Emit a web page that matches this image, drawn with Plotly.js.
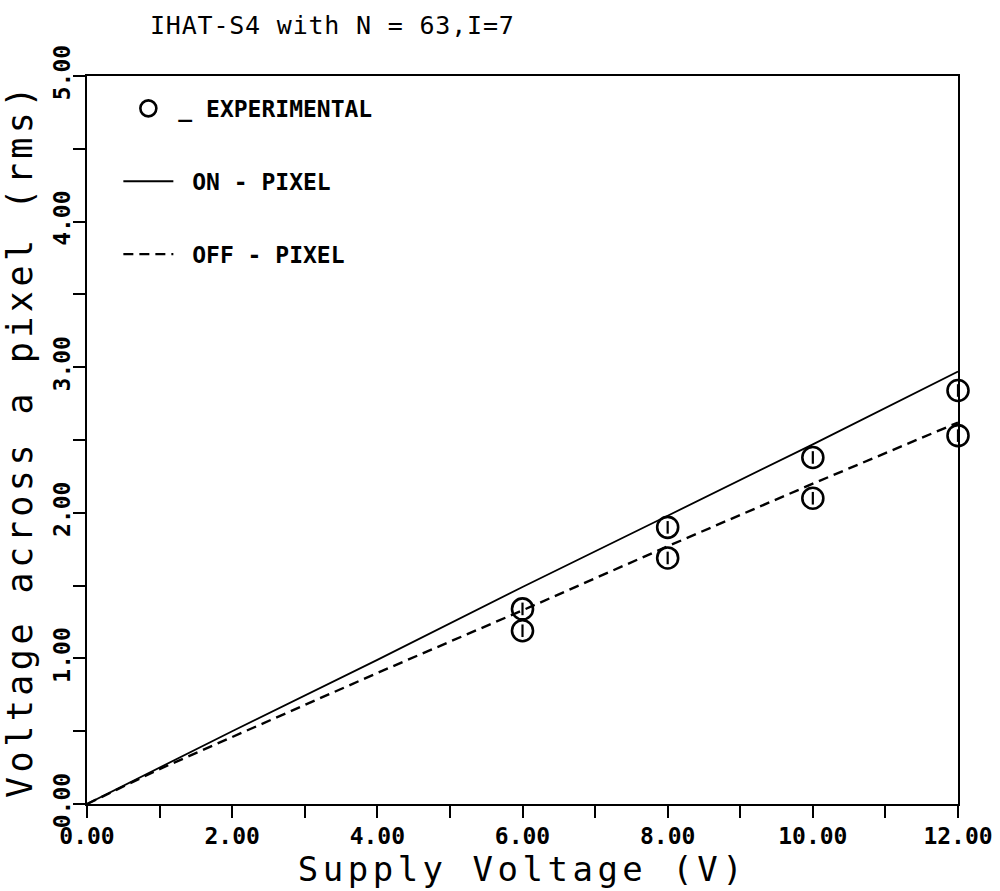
<!DOCTYPE html>
<html>
<head>
<meta charset="utf-8">
<script src="https://cdn.plot.ly/plotly-3.0.1.min.js"></script>
<style>
  html, body { margin: 0; padding: 0; background: #fff; }
  #chart { width: 1000px; height: 891px; }
  .gtitle { letter-spacing: 0.8px; }
  .xtitle, .ytitle { letter-spacing: 4.5px; }
</style>
</head>
<body>
<div id="chart"></div>
<script>
// ---- data ----
const expX = [6, 6, 8, 8, 10, 10, 12, 12];
const expY = [1.34, 1.19, 1.90, 1.69, 2.38, 2.10, 2.84, 2.53];

const onX  = [0, 2, 4, 6, 8, 10, 12];
const onY  = [0, 0.50, 0.99, 1.49, 1.98, 2.47, 2.97];

const offX = [0, 1, 2, 4, 6, 8, 10, 12];
const offY = [0, 0.24, 0.46, 0.90, 1.33, 1.77, 2.20, 2.62];

const xTickVals = [0, 2, 4, 6, 8, 10, 12];
const xTickText = ["0.00", "2.00", "4.00", "6.00", "8.00", "10.00", "12.00"];
const yTickVals = [0, 1, 2, 3, 4, 5];
const yTickText = ["0.00", "1.00", "2.00", "3.00", "4.00", "5.00"];

const titleText = "IHAT-S4 with N = 63,I=7";
const xTitle = "Supply Voltage (V)";
const yTitle = "Voltage across a pixel (rms)";
const names = ["_ EXPERIMENTAL", "\u00a0ON - PIXEL", "\u00a0OFF - PIXEL"];

const MONO = "DejaVu Sans Mono, Liberation Mono, monospace";

const traces = [
  {
    x: expX, y: expY, type: "scatter", mode: "markers", name: names[0],
    legendgroup: "a",
    marker: { symbol: "circle-open", size: 21, color: "#000", line: { width: 2.6, color: "#000" } },
    cliponaxis: false
  },
  {
    x: expX, y: expY, type: "scatter", mode: "markers", showlegend: false,
    legendgroup: "a", hoverinfo: "skip",
    marker: { symbol: "line-ns", size: 9, color: "#000", line: { width: 2.2, color: "#000" } },
    cliponaxis: false
  },
  {
    x: onX, y: onY, type: "scatter", mode: "lines", name: names[1],
    legendgroup: "b",
    line: { color: "#000", width: 1.8 }
  },
  {
    x: offX, y: offY, type: "scatter", mode: "lines", name: names[2],
    legendgroup: "c",
    line: { color: "#000", width: 2.4, dash: "10px,6px" }
  }
];

const layout = {
  width: 1000, height: 891,
  margin: { l: 87, r: 42, t: 76, b: 87, pad: 0 },
  paper_bgcolor: "#fff", plot_bgcolor: "#fff",
  font: { family: MONO, color: "#000" },
  showlegend: true,
  title: {
    text: titleText,
    font: { family: MONO, size: 25, color: "#000" },
    x: 0.15, xref: "container", xanchor: "left",
    y: 0.972, yref: "container", yanchor: "middle"
  },
  legend: {
    x: 0.036, y: 0.985, xanchor: "left", yanchor: "top",
    bgcolor: "rgba(0,0,0,0)", borderwidth: 0,
    font: { family: MONO, size: 23, color: "#000", weight: "bold" },
    traceorder: "grouped", tracegroupgap: 40, itemwidth: 50
  },
  xaxis: {
    range: [0, 12], autorange: false,
    showgrid: false, zeroline: false,
    showline: true, linecolor: "#000", linewidth: 2, mirror: true,
    ticks: "outside", ticklen: 12, tickwidth: 2, tickcolor: "#000",
    tickmode: "array", tickvals: xTickVals, ticktext: xTickText,
    tickfont: { family: MONO, size: 23, color: "#000", weight: "bold" },
    ticklabelstandoff: -2,
    minor: { dtick: 1, ticks: "outside", ticklen: 12, tickwidth: 2, tickcolor: "#000", showgrid: false },
    title: { text: xTitle, font: { family: MONO, size: 34, color: "#000" }, standoff: 10 }
  },
  yaxis: {
    range: [0, 5], autorange: false,
    showgrid: false, zeroline: false,
    showline: true, linecolor: "#000", linewidth: 2, mirror: true,
    ticks: "outside", ticklen: 12, tickwidth: 2, tickcolor: "#000",
    tickmode: "array", tickvals: yTickVals, ticktext: yTickText,
    tickangle: -90,
    ticklabelstandoff: -6,
    tickfont: { family: MONO, size: 23, color: "#000", weight: "bold" },
    minor: { dtick: 0.5, ticks: "outside", ticklen: 12, tickwidth: 2, tickcolor: "#000", showgrid: false },
    title: { text: yTitle, font: { family: MONO, size: 35, color: "#000" }, standoff: 10 }
  }
};

Plotly.newPlot("chart", traces, layout, { staticPlot: true, displayModeBar: false });
</script>
</body>
</html>
